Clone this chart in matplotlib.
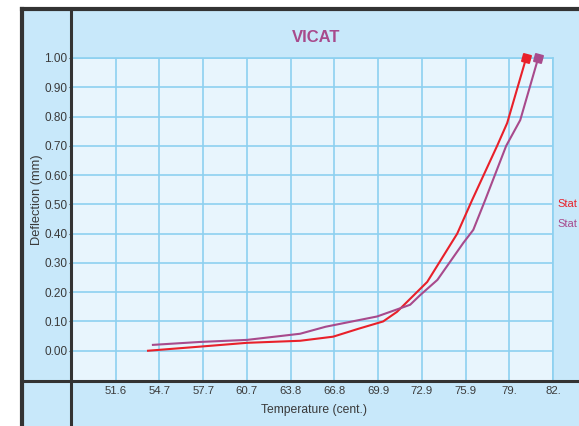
"""
VICAT – deflection vs temperature
"""

import matplotlib.pyplot as plt
from matplotlib.lines import Line2D
from matplotlib.patches import Rectangle

plt.rcParams["font.family"] = ["Liberation Sans", "DejaVu Sans"]

# ── Data ─────────────────────────────────────────────────────────
x_ticks = [51.6, 54.645, 57.69, 60.735, 63.78, 66.825, 69.87, 72.915, 75.96, 79.005, 82.05]
x_labels = ["51.6", "54.7", "57.7", "60.7", "63.8", "66.8", "69.9", "72.9", "75.9", "79.", "82."]
y_ticks = [0.0, 0.1, 0.2, 0.3, 0.4, 0.5, 0.6, 0.7, 0.8, 0.9, 1.0]

red_t = [53.85, 57.47, 60.74, 64.44, 66.74, 68.5, 70.22, 71.19, 73.29, 75.38, 76.42, 78.16, 78.86, 80.18]
red_d = [0.000, 0.014, 0.027, 0.034, 0.048, 0.075, 0.100, 0.133, 0.235, 0.400, 0.515, 0.700, 0.778, 1.000]

pur_t = [54.19, 57.47, 60.74, 64.44, 66.22, 69.80, 72.10, 72.80, 74.00, 75.80, 76.50, 77.33, 78.79, 79.77, 81.02]
pur_d = [0.020, 0.030, 0.037, 0.058, 0.082, 0.117, 0.157, 0.190, 0.242, 0.368, 0.413, 0.515, 0.700, 0.788, 1.000]

RED = "#e8202a"
PURPLE = "#a84a8c"
BG = "#c8e8fa"
PLOT_BG = "#e8f5fd"
GRID = "#8dd0f0"
DARK = "#333333"
TXT = "#3a3a3a"

W, H = 579, 426
fig = plt.figure(figsize=(W / 100, H / 100), dpi=100, facecolor="white")

def fx(px):
    return px / W

def fy(py):
    return 1 - py / H

# ── Bakgrunn og ramme ────────────────────────────────────────────
fig.patches.append(Rectangle((fx(22), 0), 1, fy(9), transform=fig.transFigure,
                             facecolor=BG, edgecolor="none", zorder=-10))
for xs, ys, lw in [((22, 22), (9, H), 3.0),
                   ((22, W), (9, 9), 3.0),
                   ((71, 71), (9, H), 2.2),
                   ((22, W), (381, 381), 2.2)]:
    fig.add_artist(Line2D([fx(xs[0]), fx(xs[1])], [fy(ys[0]), fy(ys[1])],
                          transform=fig.transFigure, color=DARK, lw=lw, zorder=5))

# ── Plotområde ───────────────────────────────────────────────────
ax = fig.add_axes([fx(72), fy(380), fx(553) - fx(72), fy(58) - fy(380)])
ax.set_facecolor(PLOT_BG)
ax.set_xlim(48.555, 82.05)
ax.set_ylim(-0.1, 1.0)
ax.set_xticks(x_ticks)
ax.set_xticklabels(x_labels)
ax.set_yticks(y_ticks)
ax.set_yticklabels([f"{v:.2f}" for v in y_ticks])
ax.grid(True, color=GRID, lw=1.2)
ax.set_axisbelow(True)
for s in ["top", "right"]:
    ax.spines[s].set_color(GRID)
    ax.spines[s].set_linewidth(1.2)
for s in ["left", "bottom"]:
    ax.spines[s].set_visible(False)
ax.tick_params(axis="y", labelsize=8.5, colors=TXT, length=2, width=0.8, pad=1.5)
ax.tick_params(axis="x", labelsize=8.2, colors=TXT, length=0, pad=4)

ax.plot(red_t, red_d, color=RED, lw=1.5, zorder=3)
ax.plot(pur_t, pur_d, color=PURPLE, lw=1.5, zorder=3)
ax.plot(red_t[-1], red_d[-1], marker=(4, 0, 30), color=RED, ms=8, zorder=4, clip_on=False)
ax.plot(pur_t[-1], pur_d[-1], marker=(4, 0, 30), color=PURPLE, ms=8, zorder=4, clip_on=False)

# ── Tekst ────────────────────────────────────────────────────────
fig.text(fx(316), fy(38), "VICAT", color=PURPLE, fontsize=12, fontweight="bold",
         ha="center", va="center")
fig.text(fx(37), fy(200), "Deflection (mm)", rotation=90, color=TXT, fontsize=9.3,
         ha="center", va="center")
fig.text(fx(314), fy(410), "Temperature (cent.)", color=TXT, fontsize=8.7,
         ha="center", va="center")
fig.text(fx(557), fy(204), "Stat", color=RED, fontsize=8, ha="left", va="center")
fig.text(fx(557), fy(224), "Stat", color=PURPLE, fontsize=8, ha="left", va="center")

fig.savefig("out.png", dpi=100, facecolor="white")
plt.close()
